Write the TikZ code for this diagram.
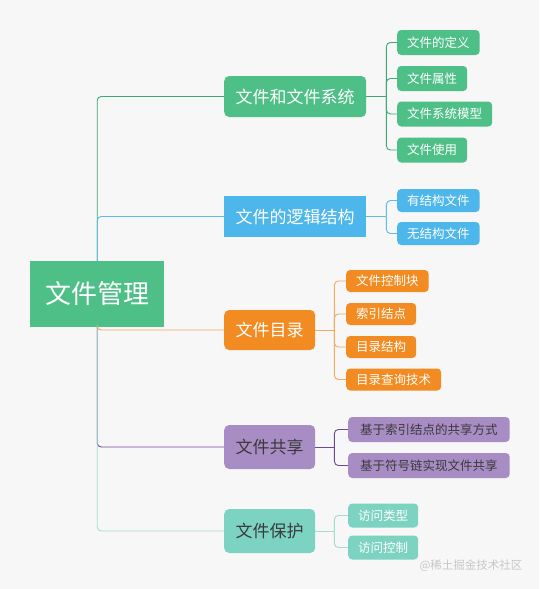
\documentclass[tikz,border=0pt]{standalone}
\usepackage{fontspec}
\setmainfont{Noto Sans CJK SC}
\usetikzlibrary{calc}

\definecolor{bgcol}{HTML}{F7F7F8}
\definecolor{fgreen}{HTML}{4FBF88}
\definecolor{fblue}{HTML}{4DB6EA}
\definecolor{forange}{HTML}{F28B21}
\definecolor{fpurple}{HTML}{A88DC5}
\definecolor{fteal}{HTML}{7CD3C1}
\definecolor{lgreen}{HTML}{3FA878}
\definecolor{lblue}{HTML}{5DBBE8}
\definecolor{lorange}{HTML}{F3A95E}
\definecolor{lpurple}{HTML}{6A4A96}
\definecolor{lteal}{HTML}{A3DCCD}
\definecolor{darktext}{HTML}{3A3A3A}

\begin{document}
\begin{tikzpicture}[
    x=1pt, y=-1pt,
    rootbox/.style={fill=fgreen, text=white, anchor=west, minimum width=134pt,
        minimum height=66pt, font=\fontsize{26}{30}\selectfont},
    mainbox/.style={rounded corners=5pt, anchor=west, minimum height=41pt,
        inner xsep=11.5pt, text=white, font=\fontsize{17}{20}\selectfont},
    leafbox/.style={rounded corners=4pt, anchor=west, minimum height=24pt,
        inner xsep=10pt, text=white, font=\fontsize{12.5}{15}\selectfont},
    link/.style={line width=0.9pt, rounded corners=4pt}]

    % background
    \fill[bgcol] (0,0) rectangle (539,589);

    % root
    \node[rootbox] (root) at (30,294) {文件管理};

    % main branches
    \node[mainbox, fill=fgreen] (sys) at (224,96.5) {文件和文件系统};
    \node[mainbox, fill=fblue, rounded corners=0pt] (logic) at (224,216.5) {文件的逻辑结构};
    \node[mainbox, fill=forange, minimum height=40pt] (dir) at (224,330) {文件目录};
    \node[mainbox, fill=fpurple, text=darktext, minimum height=44pt] (share) at (224,447) {文件共享};
    \node[mainbox, fill=fteal, text=darktext, minimum height=44pt] (protect) at (224,531) {文件保护};

    % leaves
    \node[leafbox, fill=fgreen, minimum height=25pt] (def) at (397,42.5) {文件的定义};
    \node[leafbox, fill=fgreen, minimum height=25pt] (attr) at (397,78.5) {文件属性};
    \node[leafbox, fill=fgreen, minimum height=25pt] (model) at (397,114) {文件系统模型};
    \node[leafbox, fill=fgreen, minimum height=25pt] (use) at (397,150) {文件使用};

    \node[leafbox, fill=fblue, minimum height=23pt] (struct) at (397,200.5) {有结构文件};
    \node[leafbox, fill=fblue, minimum height=23pt] (nostruct) at (397,233.5) {无结构文件};

    \node[leafbox, fill=forange, minimum height=22pt] (fcb) at (346,281) {文件控制块};
    \node[leafbox, fill=forange, minimum height=22pt] (inode) at (346,314) {索引结点};
    \node[leafbox, fill=forange, minimum height=22pt] (dirstruct) at (346,347) {目录结构};
    \node[leafbox, fill=forange, minimum height=22pt] (lookup) at (346,379.5) {目录查询技术};

    \node[leafbox, fill=fpurple, text=darktext, minimum height=25pt, inner xsep=12pt] (hard) at (348,429.5) {基于索引结点的共享方式};
    \node[leafbox, fill=fpurple, text=darktext, minimum height=25pt, inner xsep=12pt] (soft) at (348,465.5) {基于符号链实现文件共享};

    \node[leafbox, fill=fteal] (acctype) at (348,515.5) {访问类型};
    \node[leafbox, fill=fteal] (accctl) at (348,547.5) {访问控制};

    % trunk
    \draw[link, draw=lgreen] (root.north) |- (sys.west);
    \draw[link, draw=lblue] (root.north) |- (logic.west);
    \draw[link, draw=lorange] (root.south) |- (dir.west);
    \draw[link, draw=lpurple] (root.south) |- (share.west);
    \draw[link, draw=lteal] (root.south) |- (protect.west);

    % brackets
    \coordinate (sysj) at ([xshift=20pt]sys.east);
    \draw[link, draw=lgreen] (sys.east) -- (sysj);
    \foreach \leaf in {def, attr, model, use}
        \draw[link, draw=lgreen] (sysj) |- (\leaf.west);

    \coordinate (logicj) at ([xshift=20pt]logic.east);
    \draw[link, draw=lblue] (logic.east) -- (logicj);
    \foreach \leaf in {struct, nostruct}
        \draw[link, draw=lblue] (logicj) |- (\leaf.west);

    \coordinate (dirj) at ([xshift=19pt]dir.east);
    \draw[link, draw=lorange] (dir.east) -- (dirj);
    \foreach \leaf in {fcb, inode, dirstruct, lookup}
        \draw[link, draw=lorange] (dirj) |- (\leaf.west);

    \coordinate (sharej) at ([xshift=19pt]share.east);
    \draw[link, draw=lpurple] (share.east) -- (sharej);
    \foreach \leaf in {hard, soft}
        \draw[link, draw=lpurple] (sharej) |- (\leaf.west);

    \coordinate (protectj) at ([xshift=19pt]protect.east);
    \draw[link, draw=lteal] (protect.east) -- (protectj);
    \foreach \leaf in {acctype, accctl}
        \draw[link, draw=lteal] (protectj) |- (\leaf.west);

    % watermark
    \node[anchor=east, text=black!22, font=\fontsize{11.5}{13}\selectfont] (mark) at (526,566) {@稀土掘金技术社区};

\end{tikzpicture}
\end{document}
